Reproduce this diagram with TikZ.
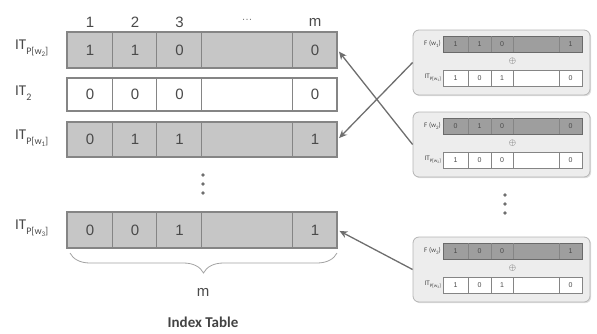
\documentclass[tikz,border=0pt]{standalone}
\usepackage{fontspec}
\setmainfont{Liberation Sans}
\newfontfamily\calfont{Carlito}
\usetikzlibrary{arrows.meta,calc,decorations.pathreplacing,shadows}
\definecolor{rowgray}{HTML}{C6C6C6}
\definecolor{rowline}{HTML}{858585}
\definecolor{txtgray}{HTML}{4A4A4A}
\definecolor{arrgray}{HTML}{6E6E6E}
\definecolor{panelfill}{HTML}{EDEDED}
\definecolor{panelline}{HTML}{B4B4B4}
\definecolor{fbarfill}{HTML}{9E9E9E}
\newcommand{\lsub}[1]{\raisebox{-0.32em}{\fontsize{10}{10}\selectfont #1}}
\newcommand{\llsub}[1]{\raisebox{-0.22em}{\fontsize{7}{7}\selectfont #1}}
\newcommand{\psub}[1]{\raisebox{-0.3em}{\fontsize{5}{5}\selectfont #1}}
\newcommand{\ppsub}[1]{\raisebox{-0.2em}{\fontsize{3.5}{3.5}\selectfont #1}}
\tikzset{
  rowbox/.style={draw=rowline, line width=1.4pt, minimum width=270pt, inner sep=0pt},
  celldiv/.style={draw=rowline, line width=0.6pt},
  val/.style={text=txtgray, font=\fontsize{15}{15}\selectfont, inner sep=0pt},
  hdr/.style={text=txtgray, font=\fontsize{15}{15}\selectfont, inner sep=0pt},
  lab/.style={text=txtgray, font=\calfont\fontsize{15}{15}\selectfont, inner sep=0pt, anchor=west},
  panelbox/.style={draw=panelline, fill=panelfill, rounded corners=6pt, minimum width=177pt, minimum height=65pt, inner sep=0pt, line width=0.8pt,
    drop shadow={opacity=0.25, shadow xshift=1.2pt, shadow yshift=-1.2pt}},
  fbar/.style={draw=rowline!80!black, fill=fbarfill, minimum width=139pt, minimum height=16pt, inner sep=0pt, line width=0.7pt},
  ibar/.style={draw=rowline, fill=white, minimum width=139pt, minimum height=16pt, inner sep=0pt, line width=0.7pt},
  pdiv/.style={draw=rowline, line width=0.5pt},
  pval/.style={text=txtgray, font=\fontsize{7}{7}\selectfont, inner sep=0pt},
  plab/.style={text=txtgray, font=\calfont\fontsize{7}{7}\selectfont, inner sep=0pt, anchor=east},
  arr/.style={draw=arrgray, line width=1.3pt, -{Stealth[length=8pt,width=7pt]}, shorten >=2pt},
  dotc/.style={fill=txtgray!80},
}
\newcommand{\trow}[8]{% name, ycenter, height, fill, v1, v2, v3, v5
  \node[rowbox, fill=#4, minimum height=#3pt] (#1) at (202,#2) {};
  \foreach \dx in {46,90,135,226}
    \draw[celldiv] ($(#1.north west)+(\dx,0)$) -- ($(#1.south west)+(\dx,0)$);
  \node[val] (#1v1) at (90,#2) {#5};
  \node[val] (#1v2) at (135,#2) {#6};
  \node[val] (#1v3) at (179.5,#2) {#7};
  \node[val] (#1v5) at (315,#2) {#8};
}
\newcommand{\panel}[3]{% name, top, index
  \node[panelbox] (#1) at (501.5,#2+32.5) {};
  \node[fbar] (#1f) at (512.5,#2+14) {};
  \node[ibar] (#1i) at (512.5,#2+48) {};
  \foreach \xx in {468,491,513,559} {
    \draw[pdiv] (\xx,#2+6) -- (\xx,#2+22);
    \draw[pdiv] (\xx,#2+40) -- (\xx,#2+56);
  }
  \node[plab] (#1fl) at (441,#2+14) {F (w\psub{#3})};
  \node[plab] (#1il) at (441,#2+48) {IT\psub{P[w\ppsub{#3}]}};
  \node[text=txtgray, inner sep=0pt] (#1op) at (512.5,#2+31) {\fontsize{9}{9}\selectfont$\oplus$};
}
\newcommand{\pvals}[6]{% prefix, y, a, b, c, d
  \node[pval] (#1a) at (455.5,#2) {#3};
  \node[pval] (#1b) at (479.5,#2) {#4};
  \node[pval] (#1c) at (502,#2) {#5};
  \node[pval] (#1d) at (570.5,#2) {#6};
}
\begin{document}
\begin{tikzpicture}[x=1pt,y=-1pt]
\useasboundingbox (0,0) rectangle (597,333);
% column headers
\node[hdr] (h1) at (90,22) {1};
\node[hdr] (h2) at (135,22) {2};
\node[hdr] (h3) at (179.5,22) {3};
\node[hdr, text=txtgray!70] (h4) at (247,20) {\fontsize{11}{11}\selectfont\dots};
\node[hdr] (h5) at (315,22) {m};
% rows
\trow{r1}{50}{36}{rowgray}{1}{1}{0}{0}
\trow{r2}{94.5}{33}{white}{0}{0}{0}{0}
\trow{r3}{139.5}{35}{rowgray}{0}{1}{1}{1}
\trow{r4}{230}{36}{rowgray}{0}{0}{1}{1}
% row labels
\node[lab] (l1) at (15,48) {IT\lsub{P[w\llsub{2}]}};
\node[lab] (l2) at (15,93) {IT\lsub{2}};
\node[lab] (l3) at (15,138) {IT\lsub{P[w\llsub{1}]}};
\node[lab] (l4) at (15,228) {IT\lsub{P[w\llsub{3}]}};
% vertical dots left
\foreach \yy in {175,184,193} \fill[dotc] (203,\yy) circle (1.9);
% brace
\coordinate (bl) at (70,253);
\coordinate (br) at (337,253);
\draw[draw=panelline!90!black, line width=0.8pt, decorate, decoration={brace, amplitude=20pt, raise=0pt}] (br) -- (bl);
\node[hdr] (mm) at (203,292) {m};
\node[text=txtgray!90!black, font=\calfont\bfseries\fontsize{15}{15}\selectfont, inner sep=0pt] (title) at (203,322) {Index Table};
% panels
\panel{b1}{30}{1}
\pvals{b1t}{44}{1}{1}{0}{1}
\pvals{b1b}{78}{1}{0}{1}{0}
\panel{b2}{112}{2}
\pvals{b2t}{126}{0}{1}{0}{0}
\pvals{b2b}{160}{1}{0}{0}{0}
\panel{b3}{237}{3}
\pvals{b3t}{251}{1}{0}{0}{1}
\pvals{b3b}{285}{1}{0}{1}{0}
% vertical dots right
\foreach \yy in {195,204,213} \fill[dotc] (505,\yy) circle (1.9);
% arrows
\draw[arr] (b1.west) -- (r3.east);
\draw[arr] (b2.west) -- (r1.east);
\draw[arr] (b3.west) -- (r4.east);
\end{tikzpicture}
\end{document}
